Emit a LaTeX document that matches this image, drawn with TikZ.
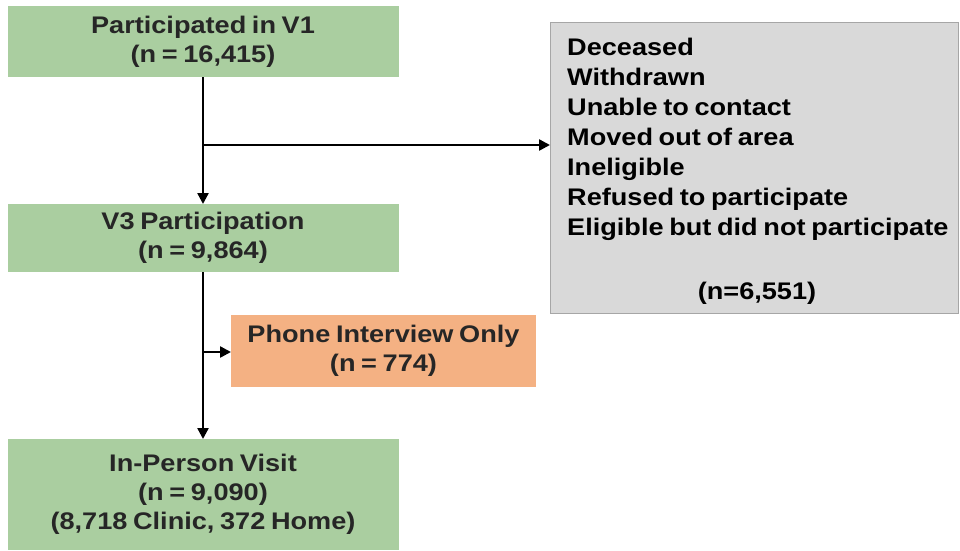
\documentclass[tikz,border=0pt]{standalone}
\usepackage{fontspec}
\setmainfont{Liberation Sans}[FakeStretch=1.13, WordSpace=0.75]
\usetikzlibrary{arrows.meta}
\definecolor{boxgreen}{RGB}{170,206,160}
\definecolor{boxpeach}{RGB}{244,177,131}
\definecolor{boxgrey}{RGB}{217,217,217}
\definecolor{greyline}{RGB}{166,166,166}
\definecolor{txt}{RGB}{38,38,38}
\tikzset{
  flowbox/.style={rectangle, inner sep=0pt, outer sep=0pt, align=center,
    text=txt, font=\bfseries\fontsize{24}{29}\selectfont},
  greenbox/.style={flowbox, fill=boxgreen},
  peachbox/.style={flowbox, fill=boxpeach},
  greybox/.style={rectangle, inner sep=0pt, outer sep=0pt, fill=boxgrey, draw=greyline, line width=1pt},
  listtext/.style={inner sep=0pt, align=left, text=black, font=\bfseries\fontsize{24}{30}\selectfont},
  conn/.style={line width=2.4pt, -{Triangle[length=11pt,width=11pt]}}
}
\begin{document}
\begin{tikzpicture}[x=1pt,y=-1pt]
\useasboundingbox (0,0) rectangle (960,550);
\node[greenbox, minimum width=391pt, minimum height=71pt] (v1) at (203,41.5) {\raisebox{-2pt}{Participated in V1}\\\raisebox{-2pt}{(n = 16,415)}};
\node[greenbox, minimum width=391pt, minimum height=68pt] (v3) at (203,238) {\raisebox{-2pt}{V3 Participation}\\\raisebox{-2pt}{(n = 9,864)}};
\node[peachbox, minimum width=305pt, minimum height=72pt] (phone) at (383.5,351) {\raisebox{-2pt}{Phone Interview Only}\\\raisebox{-2pt}{(n = 774)}};
\node[greenbox, minimum width=391pt, minimum height=111pt] (visit) at (203,494.5) {\raisebox{-2pt}{In-Person Visit}\\\raisebox{-2pt}{(n = 9,090)}\\\raisebox{-2pt}{(8,718 Clinic, 372 Home)}};
\node[greybox, minimum width=408pt, minimum height=291pt] (excl) at (754,167.5) {};
\node[listtext, anchor=north west] (reasons) at (567,38) {Deceased\\Withdrawn\\Unable to contact\\Moved out of area\\Ineligible\\Refused to participate\\Eligible but did not participate};
\node[listtext] (excln) at (757,293) {(n=6,551)};
\coordinate (b1) at (203,145);
\coordinate (b2) at (203,352);
\draw[conn] (v1.south) -- (v3.north);
\draw[conn] (b1) -- (b1 -| excl.west);
\draw[conn] (v3.south) -- (visit.north);
\draw[conn] (b2) -- (b2 -| phone.west);
\end{tikzpicture}
\end{document}
